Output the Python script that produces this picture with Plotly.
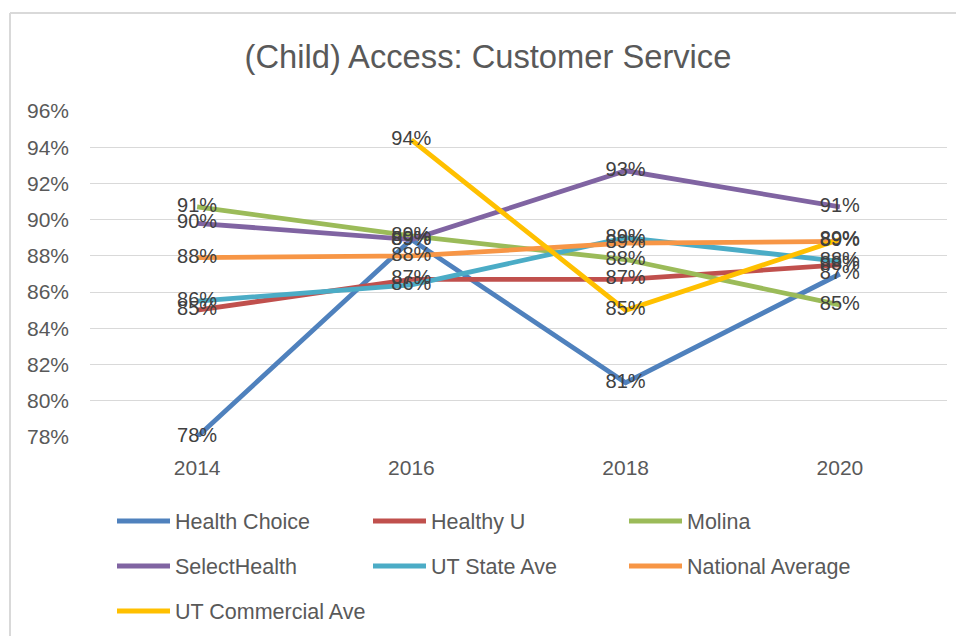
import plotly.graph_objects as go

years = ["2014", "2016", "2018", "2020"]
series_names = ["Health Choice", "Healthy U", "Molina", "SelectHealth",
                "UT State Ave", "National Average", "UT Commercial Ave"]
health_choice = [78.0, 88.9, 81.0, 87.0]
healthy_u = [85.0, 86.7, 86.7, 87.5]
molina = [90.7, 89.1, 87.8, 85.3]
selecthealth = [89.8, 88.9, 92.7, 90.7]
ut_state_ave = [85.5, 86.4, 89.0, 87.7]
national_average = [87.9, 88.0, 88.7, 88.8]
ut_commercial_ave = [None, 94.4, 85.0, 88.9]
y_ticks = [78, 80, 82, 84, 86, 88, 90, 92, 94, 96]

values = [health_choice, healthy_u, molina, selecthealth,
          ut_state_ave, national_average, ut_commercial_ave]
colors = ["#4F81BD", "#C0504D", "#9BBB59", "#8064A2",
          "#4BACC6", "#F79646", "#FFC000"]
legend_ids = ["legend", "legend", "legend", "legend2", "legend2", "legend2", "legend3"]

FONT = "Liberation Sans, Arial, sans-serif"
OFF = 8  # page body margin offset
W, H = 964 - OFF, 636 - OFF
ML, MR, MT, MB = 90 - OFF, 17, 111 - OFF, 199
PW, PH = W - ML - MR, H - MT - MB

fig = go.Figure()
for name, vals, col, lg in zip(series_names, values, colors, legend_ids):
    fig.add_trace(go.Scatter(
        x=years, y=vals, name=name, mode="lines",
        line=dict(color=col, width=4.8), legend=lg,
        connectgaps=False, hoverinfo="skip"))
for name, vals in zip(series_names, values):
    fig.add_trace(go.Scatter(
        x=years, y=vals, mode="text", showlegend=False,
        texttemplate="%{y:.0f}%", textposition="middle center",
        textfont=dict(family=FONT, size=20, color="#404040"),
        cliponaxis=False, hoverinfo="skip"))

def px2paper_x(px):
    return (px - OFF - ML) / PW

def px2paper_y(py):
    return (H - MB - (py - OFF)) / PH

def cx(px):
    return (px - OFF) / W

def cy(py):
    return 1 - (py - OFF) / H

leg_common = dict(orientation="h", xref="container", yref="container",
                  xanchor="left", yanchor="middle", entrywidth=188,
                  itemwidth=53,
                  entrywidthmode="pixels", bgcolor="rgba(0,0,0,0)",
                  font=dict(family=FONT, size=21.5, color="#595959"))

fig.update_layout(
    width=W, height=H,
    margin=dict(l=ML, r=MR, t=MT, b=MB, autoexpand=False),
    paper_bgcolor="white", plot_bgcolor="white",
    title=dict(text="(Child) Access: Customer Service", xref="container",
               x=cx(488), y=cy(57), xanchor="center", yanchor="middle",
               font=dict(family=FONT, size=32.7, color="#595959")),
    xaxis=dict(type="category", range=[-0.5, 3.5], showgrid=False,
               showline=False, zeroline=False,
               ticks="", ticklabelstandoff=16,
               tickfont=dict(family=FONT, size=21, color="#595959")),
    yaxis=dict(range=[78, 96], tickvals=y_ticks,
               ticktext=[f"{v}%" for v in y_ticks],
               showgrid=True, gridcolor="#D9D9D9", gridwidth=1.3,
               zeroline=False, showline=False, ticks="", ticklabelstandoff=20,
               tickfont=dict(family=FONT, size=21, color="#595959")),
    legend=dict(x=cx(112), y=cy(521), **leg_common),
    legend2=dict(x=cx(112), y=cy(566), **leg_common),
    legend3=dict(x=cx(112), y=cy(611), **leg_common),
    shapes=[
        dict(type="line", xref="paper", yref="paper",
             x0=px2paper_x(10), x1=px2paper_x(10),
             y0=px2paper_y(13), y1=px2paper_y(660),
             line=dict(color="#D9D9D9", width=2)),
        dict(type="line", xref="paper", yref="paper",
             x0=px2paper_x(10), x1=px2paper_x(990),
             y0=px2paper_y(13), y1=px2paper_y(13),
             line=dict(color="#D9D9D9", width=2)),
    ],
    showlegend=True,
)

fig.write_html("out.html")
